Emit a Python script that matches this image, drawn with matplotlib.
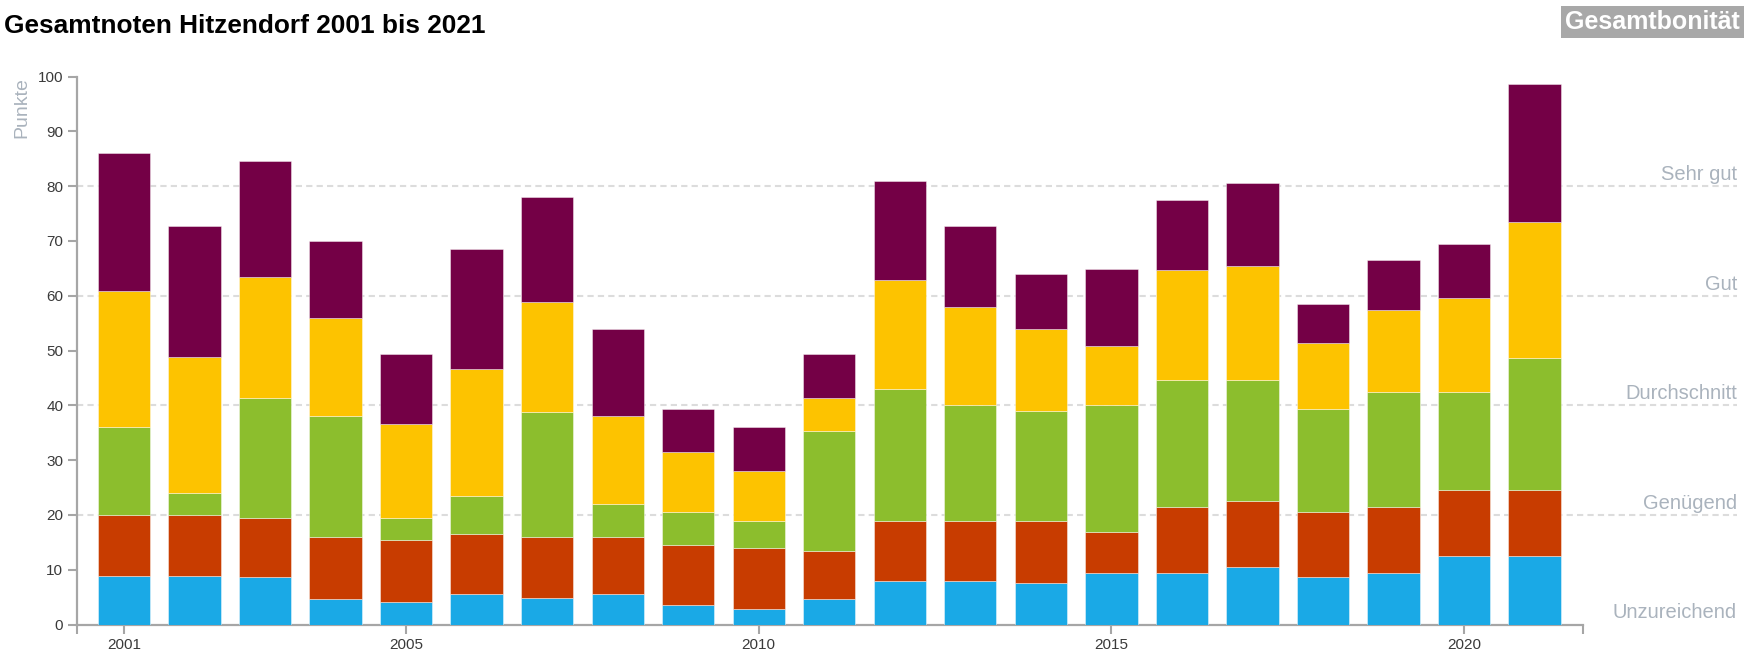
import numpy as np
import matplotlib
matplotlib.use('Agg')
import matplotlib.pyplot as plt

plt.rcParams['font.family'] = ['Liberation Sans', 'DejaVu Sans']

years = np.arange(2001, 2022)

# Punkte je Teilbereich (gestapelt von unten nach oben)
blau = [8.9, 8.9, 8.6, 4.6, 4.1, 5.5, 4.9, 5.5, 3.5, 2.9, 4.6,
        8.0, 8.0, 7.5, 9.4, 9.4, 10.5, 8.6, 9.4, 12.5, 12.5]
rot = [11.1, 11.1, 10.8, 11.3, 11.3, 11.1, 11.0, 10.4, 11.0, 11.1, 8.8,
       10.8, 10.8, 11.3, 7.5, 12.0, 12.0, 11.9, 12.0, 12.0, 12.0]
gruen = [16.0, 4.0, 22.0, 22.1, 4.0, 6.8, 22.9, 6.1, 6.0, 4.8, 22.0,
         24.1, 21.2, 20.1, 23.1, 23.2, 22.1, 18.9, 21.1, 18.0, 24.1]
gelb = [24.9, 24.9, 22.0, 18.0, 17.1, 23.2, 20.0, 16.0, 10.9, 9.2, 6.0,
        20.0, 18.0, 15.1, 10.9, 20.0, 20.8, 12.0, 14.9, 17.0, 24.8]
lila = [25.1, 23.9, 21.2, 14.0, 12.9, 22.0, 19.2, 16.0, 8.0, 8.0, 8.0,
        18.0, 14.8, 10.0, 13.9, 12.8, 15.2, 7.1, 9.2, 9.9, 25.2]

stufen = [0, 20, 40, 60, 80]
stufen_namen = ['Unzureichend', 'Genügend', 'Durchschnitt', 'Gut', 'Sehr gut']

farben = ['#1aa9e6', '#c83c00', '#8cbe2d', '#fdc300', '#740046']

W, H = 1762, 654
fig = plt.figure(figsize=(W / 100, H / 100), dpi=100)
ax = fig.add_axes([77 / W, 1 - 624.5 / H, (1583 - 77) / W, (624.5 - 76.5) / H])

bottom = np.zeros(len(years))
for vals, c in zip([blau, rot, gruen, gelb, lila], farben):
    ax.bar(years, vals, width=0.742, bottom=bottom, color=c,
           edgecolor=(1, 1, 1, 0.5), linewidth=0.6, zorder=3)
    bottom += np.array(vals)

x0, x1 = 2000.334, 2021.687
ax.set_xlim(x0, x1)
ax.set_ylim(0, 100)

# gestrichelte Linien bis zu den Beschriftungen rechts
xend = (1737 - 77) / (1583 - 77)
ax.hlines(stufen[1:], 0, xend, transform=ax.get_yaxis_transform(),
          colors='#dcdcdc', linestyles=(0, (3, 2)), linewidth=1.5,
          clip_on=False, zorder=1)
for val, name in zip(stufen, stufen_namen):
    ax.annotate(name, xy=(xend, val), xycoords=ax.get_yaxis_transform(),
                xytext=(0, 1.5), textcoords='offset points',
                ha='right', va='bottom', fontsize=14.5, color='#aab3bd',
                annotation_clip=False)

ax.set_xticks([2001, 2005, 2010, 2015, 2020])
ax.set_xticks([x0, x1], minor=True)
ax.set_yticks(np.arange(0, 101, 10))
ax.tick_params(axis='both', which='both', colors='#a6a6a6', width=1.5,
               length=6.5, labelcolor='#3a3a3a', labelsize=11, pad=3.4)

for s in ['top', 'right']:
    ax.spines[s].set_visible(False)
for s in ['left', 'bottom']:
    ax.spines[s].set_color('#a6a6a6')
    ax.spines[s].set_linewidth(1.6)

fig.text(4 / W, 1 - 33 / H, 'Gesamtnoten Hitzendorf 2001 bis 2021',
         fontsize=18.9, fontweight='bold', va='baseline', ha='left')
fig.text(1740 / W, 1 - 29 / H, 'Gesamtbonität', fontsize=18,
         fontweight='bold', color='white', va='baseline', ha='right',
         bbox=dict(facecolor='#a8a8a8', edgecolor='none', pad=3))
fig.text(22 / W, 1 - 77 / H, 'Punkte', rotation=90, ha='center', va='top',
         fontsize=14, color='#aab3bd')

plt.savefig('out.png', dpi=100)
